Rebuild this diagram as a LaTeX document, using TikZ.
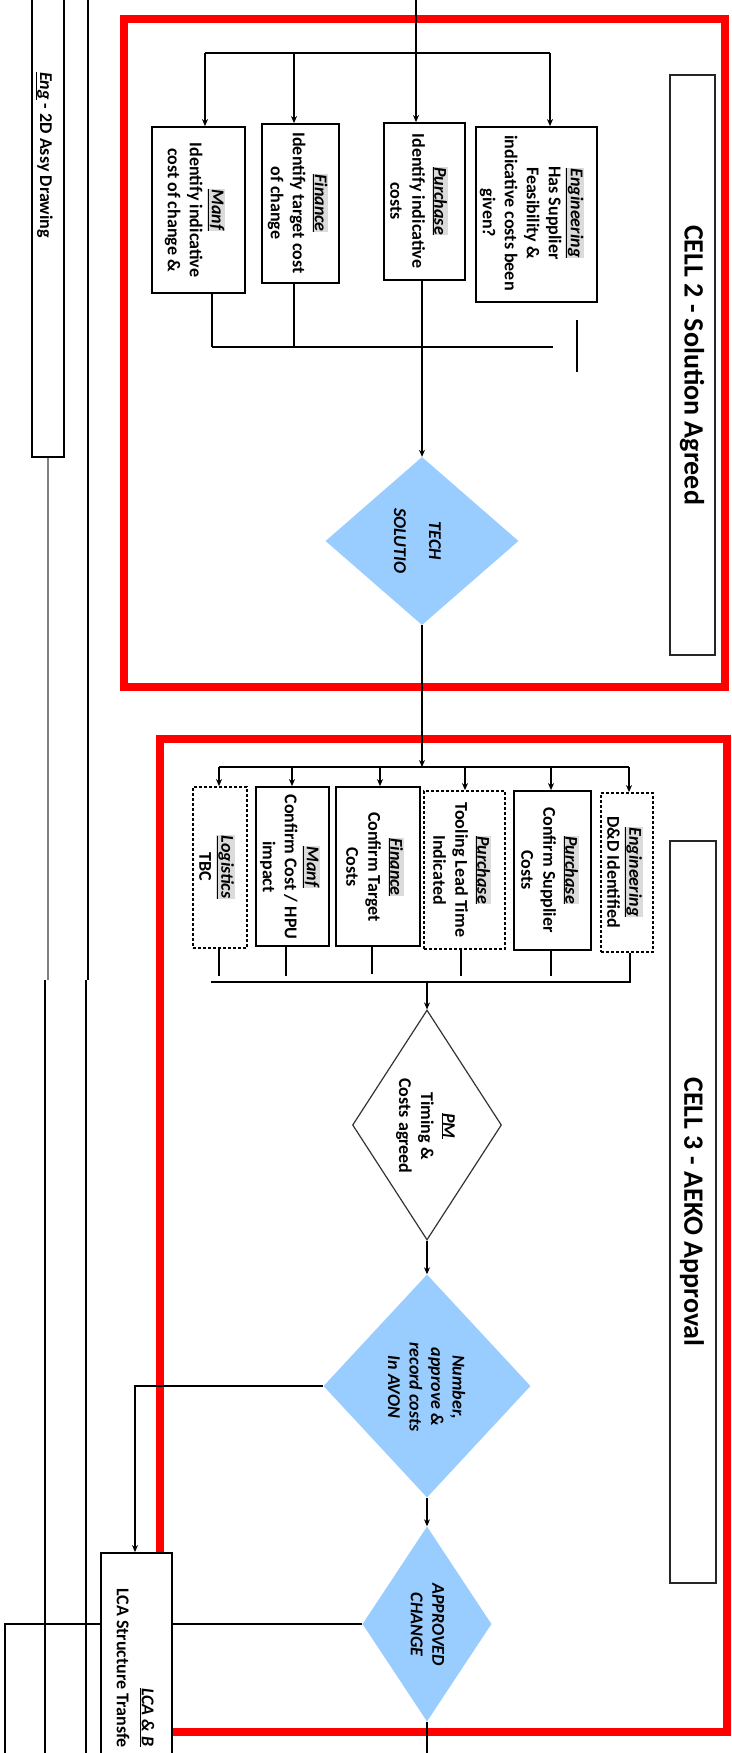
\documentclass[tikz,border=0pt]{standalone}
\usepackage{fontspec}
\setmainfont{Carlito}
\usetikzlibrary{shapes.geometric,arrows.meta}
\definecolor{cellred}{HTML}{FF0000}
\definecolor{dblue}{HTML}{99CCFF}
\newcommand\dep[1]{{\setlength{\fboxsep}{0.6pt}\colorbox{black!14}{\underline{\textit{#1}}}}}
\tikzset{
  box/.style={draw=black, line width=1.8pt, fill=white, inner sep=0pt},
  dbox/.style={box, dash pattern=on 3pt off 2pt},
  txt/.style={rotate=-90, align=center, font=\fontsize{18pt}{22pt}\selectfont\bfseries, inner sep=0pt},
  ttl/.style={rotate=-90, font=\fontsize{28pt}{32pt}\selectfont\bfseries, inner sep=0pt},
  frame/.style={draw=cellred, line width=8pt},
  con/.style={draw=black, line width=1.6pt},
  arr/.style={con, -{Stealth[length=7pt,width=6pt]}},
  dia/.style={diamond, inner sep=0pt, fill=dblue},
}
\begin{document}
\begin{tikzpicture}[x=1pt,y=-1pt]
\useasboundingbox (0,0) rectangle (731,1753);
\clip (0,0) rectangle (731,1753);
\fill[white] (0,0) rectangle (731,1753);

% left lane lines
\node[box, line width=1.8pt, minimum width=32pt, minimum height=604pt] (eng) at (48,155) {};
\node[txt, font=\fontsize{18pt}{22pt}\selectfont\bfseries] (engt) at (44,155) {\underline{\textit{Eng}} - 2D Assy Drawing};
\coordinate (g1) at (48,980);
\coordinate (g2) at (45,980);
\coordinate (g3) at (45,1753);
\draw[con, draw=black!50, line width=2pt] (eng.south) -- (g1);
\draw[con, line width=1.8pt] (g2) -- (g3);
\coordinate (v1) at (88,0);
\coordinate (v2) at (88,980);
\coordinate (v3) at (86,980);
\coordinate (v4) at (86,1753);
\draw[con, line width=1.8pt] (v1) -- (v2);
\draw[con, line width=1.8pt] (v3) -- (v4);

% red frames
\draw[frame] (124,19) rectangle (725,687);
\draw[frame] (160,739) rectangle (727,1732);

% titles
\node[box, draw=black!85, minimum width=45pt, minimum height=580pt] (c2) at (692.5,365) {};
\node[ttl] (c2t) at (692,365) {CELL 2 - Solution Agreed};
\node[box, draw=black!85, minimum width=46pt, minimum height=742pt] (c3) at (693,1212) {};
\node[ttl] (c3t) at (692,1212) {CELL 3 - AEKO Approval};

% cell 2 boxes
\node[box, minimum width=93pt, minimum height=166pt] (m2) at (198.5,210) {};
\node[txt] at (195,210) {\dep{Manf}\\Identify indicative\\cost of change \&};
\node[box, minimum width=77pt, minimum height=159pt] (f2) at (300.5,203.5) {};
\node[txt] at (298,203) {\dep{Finance}\\Identify target cost\\of change};
\node[box, minimum width=81pt, minimum height=157pt] (p2) at (424.5,201.5) {};
\node[txt] at (419,201) {\dep{Purchase}\\Identify indicative\\costs};
\node[box, minimum width=121pt, minimum height=175pt] (e2) at (536.5,214.5) {};
\node[txt] at (532,213) {\dep{Engineering}\\Has Supplier\\Feasibility \&\\indicative costs been\\given?};

% cell 2 connectors
\coordinate (in2) at (416,0);
\coordinate (b2L) at (205,53);
\coordinate (b2F) at (294,53);
\coordinate (b2R) at (550,53);
\draw[con] (b2L) -- (b2R);
\draw[arr] (in2) -- (in2 |- p2.north);
\draw[arr] (b2L) -- (b2L |- m2.north);
\draw[arr] (b2F) -- (b2F |- f2.north);
\draw[arr] (b2R) -- (b2R |- e2.north);

\node[dia, minimum width=193pt, minimum height=168pt] (tech) at (422,541) {};
\node[txt, font=\fontsize{18pt}{22pt}\selectfont\bfseries\itshape] at (417.5,541) {TECH\\[13pt]SOLUTIO};

\coordinate (j2L) at (212,347);
\coordinate (j2F) at (294,347);
\coordinate (j2) at (422,347);
\coordinate (j2R) at (553,347);
\draw[con] (j2L) -- (j2R);
\draw[con] (m2.south -| j2L) -- (j2L);
\draw[con] (j2F |- f2.south) -- (j2F);
\draw[con] (j2 |- p2.south) -- (j2);
\coordinate (o2a) at (577,320);
\coordinate (o2b) at (577,372);
\draw[con] (o2a) -- (o2b);
\draw[arr] (j2) -- (tech.north);

% cell 3 boxes
\node[dbox, minimum width=54pt, minimum height=161pt] (l3) at (220,867.5) {};
\node[txt] at (217,867) {\dep{Logistics}\\TBC};
\node[box, minimum width=73pt, minimum height=159pt] (m3) at (292.5,866.5) {};
\node[txt] at (290,867) {\dep{Manf}\\Confirm Cost / HPU\\impact};
\node[box, minimum width=84pt, minimum height=159pt] (f3) at (378,866.5) {};
\node[txt] at (375,867) {\dep{Finance}\\Confirm Target\\Costs};
\node[dbox, minimum width=81pt, minimum height=158pt] (p3a) at (464.5,870) {};
\node[txt] at (462,870) {\dep{Purchase}\\Tooling Lead Time\\Indicated};
\node[box, minimum width=77pt, minimum height=159pt] (p3b) at (552.5,870.5) {};
\node[txt] at (550,870) {\dep{Purchase}\\Confirm Supplier\\Costs};
\node[dbox, minimum width=52pt, minimum height=159pt] (e3) at (627,872.5) {};
\node[txt] at (625,872) {\dep{Engineering}\\D\&D Identified};

% cell 3 connectors
\coordinate (b3) at (422,767);
\coordinate (b3a) at (219,767);
\coordinate (b3b) at (292,767);
\coordinate (b3c) at (380,767);
\coordinate (b3d) at (465,767);
\coordinate (b3e) at (551,767);
\coordinate (b3f) at (629,767);
\draw[arr] (tech.south) -- (b3);
\draw[con] (b3a) -- (b3f);
\draw[arr] (b3a) -- (b3a |- l3.north);
\draw[arr] (b3b) -- (b3b |- m3.north);
\draw[arr] (b3c) -- (b3c |- f3.north);
\draw[arr] (b3d) -- (b3d |- p3a.north);
\draw[arr] (b3e) -- (b3e |- p3b.north);
\draw[arr] (b3f) -- (b3f |- e3.north);

\coordinate (s1) at (219,976);
\coordinate (s2) at (286,976);
\coordinate (s3) at (372,974);
\coordinate (s4) at (461,976);
\coordinate (s5) at (551,976);
\draw[con] (s1 |- l3.south) -- (s1);
\draw[con] (s2 |- m3.south) -- (s2);
\draw[con] (s3 |- f3.south) -- (s3);
\draw[con] (s4 |- p3a.south) -- (s4);
\draw[con] (s5 |- p3b.south) -- (s5);
\coordinate (j3L) at (211,982);
\coordinate (j3) at (427,982);
\coordinate (j3R) at (630,982);
\draw[con] (j3R |- e3.south) -- (j3R) -- (j3L);

% decisions
\node[diamond, draw=black!80, line width=1.2pt, fill=white, inner sep=0pt, minimum width=149pt, minimum height=230pt] (pm) at (427,1125) {};
\node[txt] at (425.5,1126) {\underline{\textit{PM}}\\Timing \&\\Costs agreed};
\draw[arr] (j3) -- (pm.north);

\node[dia, minimum width=207pt, minimum height=223pt] (num) at (427,1386) {};
\node[txt, font=\fontsize{18pt}{21.5pt}\selectfont\bfseries\itshape] at (426.5,1387) {Number,\\approve \&\\record costs\\In AVON};
\draw[arr] (pm.south) -- (num.north);

\node[dia, minimum width=129pt, minimum height=195pt] (apr) at (427,1624) {};
\node[txt, font=\fontsize{18pt}{21.5pt}\selectfont\bfseries\itshape] at (427.5,1624.5) {APPROVED\\CHANGE};
\draw[arr] (num.south) -- (apr.north);
\coordinate (bot) at (427,1753);
\draw[con] (apr.south) -- (bot);

% LCA box
\node[box, minimum width=71pt, minimum height=347pt] (lca) at (136.5,1726.5) {};
\node[txt, anchor=west] at (147,1688) {\underline{\textit{LCA \& B}}};
\node[txt, anchor=west] at (123,1588) {LCA Structure Transfe};

\coordinate (k1) at (135,1386);
\draw[arr] (num.west) -- (k1) -- (k1 |- lca.north);
\draw[con] (apr.west) -- (apr.west -| lca.east);
\coordinate (k2) at (5,1624);
\coordinate (k3) at (5,1753);
\draw[con] (lca.west |- apr.west) -- (k2) -- (k3);
\end{tikzpicture}
\end{document}
